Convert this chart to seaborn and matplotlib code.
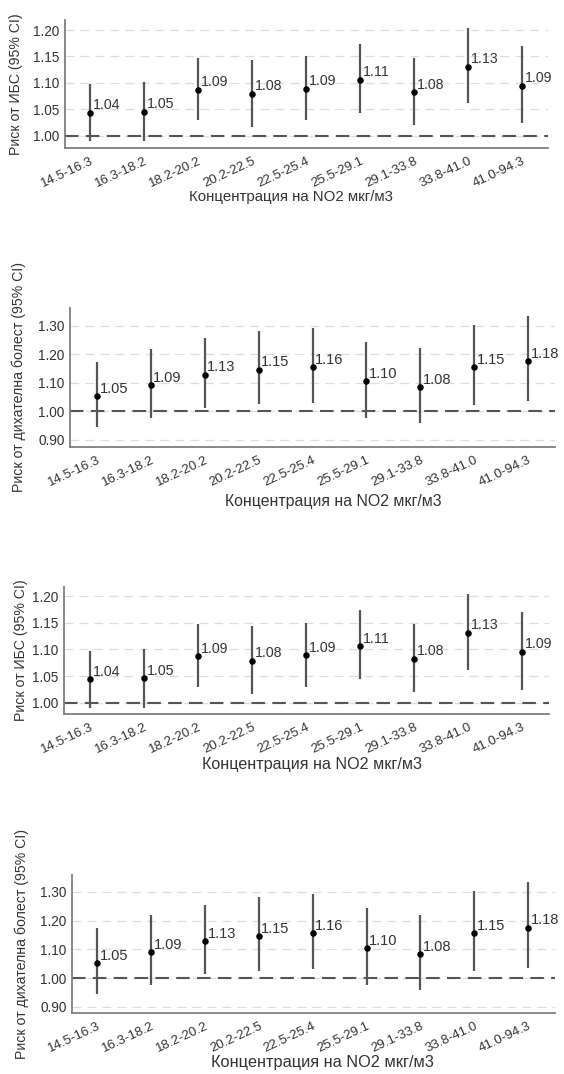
import matplotlib
matplotlib.use("Agg")
import matplotlib.pyplot as plt
import seaborn as sns
import pandas as pd
import numpy as np

# ---------------- data ----------------
categories = ["14.5-16.3", "16.3-18.2", "18.2-20.2", "20.2-22.5", "22.5-25.4",
              "25.5-29.1", "29.1-33.8", "33.8-41.0", "41.0-94.3"]

ihd_rr = [1.044, 1.046, 1.087, 1.079, 1.089, 1.106, 1.082, 1.131, 1.095]
ihd_lo = [0.991, 0.991, 1.030, 1.017, 1.030, 1.044, 1.020, 1.062, 1.024]
ihd_hi = [1.098, 1.101, 1.147, 1.144, 1.150, 1.173, 1.147, 1.204, 1.170]
ihd_labels = ["1.04", "1.05", "1.09", "1.08", "1.09", "1.11", "1.08", "1.13", "1.09"]

resp_rr = [1.053, 1.092, 1.129, 1.147, 1.156, 1.106, 1.084, 1.156, 1.176]
resp_lo = [0.945, 0.978, 1.013, 1.025, 1.031, 0.978, 0.959, 1.024, 1.036]
resp_hi = [1.174, 1.219, 1.256, 1.282, 1.294, 1.245, 1.221, 1.304, 1.335]
resp_labels = ["1.05", "1.09", "1.13", "1.15", "1.16", "1.10", "1.08", "1.15", "1.18"]

ihd_ticks = [1.00, 1.05, 1.10, 1.15, 1.20]
resp_ticks = [0.90, 1.00, 1.10, 1.20, 1.30]

ihd_ylabel = "Риск от ИБС (95% CI)"
resp_ylabel = "Риск от дихателна болест (95% CI)"
xlabel_text = "Концентрация на NO2 мкг/м3"

# ---------------- style ----------------
sns.set_theme(style="white")
plt.rcParams["font.family"] = ["Liberation Sans", "DejaVu Sans"]

W, H = 564, 1074
fig = plt.figure(figsize=(W / 100, H / 100), dpi=100)
fig.patch.set_facecolor("white")

TXT = "#333333"


def rect(l, r, t, b):
    return [l / W, 1 - b / H, (r - l) / W, (b - t) / H]


panels = [
    dict(box=(65, 548, 20, 148), rr=ihd_rr, lo=ihd_lo, hi=ihd_hi, lab=ihd_labels,
         ticks=ihd_ticks, ylim=(0.977, 1.219), ylab=ihd_ylabel, ylx=23,
         xl=(291, 197), xls=10.8, vs=10.2, vdy=5.5, xlim=(-0.47, 8.48)),
    dict(box=(70, 555, 308, 447), rr=resp_rr, lo=resp_lo, hi=resp_hi, lab=resp_labels,
         ticks=resp_ticks, ylim=(0.875, 1.363), ylab=resp_ylabel, ylx=26,
         xl=(333, 502), xls=11.4, vs=10.5, vdy=5.2, xlim=(-0.5, 8.5)),
    dict(box=(64, 549, 587, 714), rr=ihd_rr, lo=ihd_lo, hi=ihd_hi, lab=ihd_labels,
         ticks=ihd_ticks, ylim=(0.979, 1.217), ylab=ihd_ylabel, ylx=28,
         xl=(312, 765), xls=11.6, vs=10.2, vdy=5.5, xlim=(-0.49, 8.5)),
    dict(box=(72, 555, 875, 1013), rr=resp_rr, lo=resp_lo, hi=resp_hi, lab=resp_labels,
         ticks=resp_ticks, ylim=(0.879, 1.359), ylab=resp_ylabel, ylx=29,
         xl=(322, 1063), xls=11.8, vs=10.5, vdy=5.2, xlim=(-0.47, 8.5)),
]

for p in panels:
    l, r, t, b = p["box"]
    ax = fig.add_axes(rect(l, r, t, b))
    df = pd.DataFrame({"cat": categories, "rr": p["rr"], "lo": p["lo"], "hi": p["hi"]})
    pos = np.arange(len(categories))

    # light dashed grid
    for yv in p["ticks"]:
        ax.axhline(yv, color="#dddddd", lw=0.9, dashes=(7, 5), zorder=0)
    # reference line
    ax.axhline(1.0, color="#555555", lw=1.5, dashes=(6.5, 3.5), zorder=1)

    # confidence intervals
    ax.vlines(pos, df["lo"], df["hi"], color="#555555", lw=1.6, zorder=2)
    # point estimates
    sns.scatterplot(data=df, x="cat", y="rr", ax=ax, color="black", s=22,
                    linewidth=0, zorder=3, legend=False)

    for xi, (yv, txt) in enumerate(zip(df["rr"], p["lab"])):
        ax.annotate(txt, (xi, yv), xytext=(1.8, p["vdy"]), textcoords="offset points",
                    ha="left", va="center", fontsize=p["vs"], color=TXT)

    ax.set_xlim(*p["xlim"])
    ax.set_ylim(*p["ylim"])
    ax.set_yticks(p["ticks"])
    ax.set_yticklabels([f"{v:.2f}" for v in p["ticks"]])
    ax.set_xticks(pos)
    ax.set_xticklabels(categories, rotation=25, ha="right", rotation_mode="anchor")
    ax.tick_params(axis="both", length=0, labelcolor=TXT)
    ax.tick_params(axis="y", pad=4, labelsize=9.8)
    ax.tick_params(axis="x", pad=5, labelsize=9.5)

    sns.despine(ax=ax)
    for s in ("left", "bottom"):
        ax.spines[s].set_color("#7f7f7f")
        ax.spines[s].set_linewidth(1.3)

    ax.set_ylabel(p["ylab"], fontsize=10.2, color=TXT, va="bottom")
    ax.yaxis.set_label_coords((p["ylx"] - l) / (r - l), 0.5)

    ax.set_xlabel(xlabel_text, fontsize=p["xls"], color=TXT, va="center")
    cx, cy = p["xl"]
    ax.xaxis.set_label_coords((cx - l) / (r - l), (b - cy) / (b - t))

fig.savefig("out.png", dpi=100, facecolor="white")
